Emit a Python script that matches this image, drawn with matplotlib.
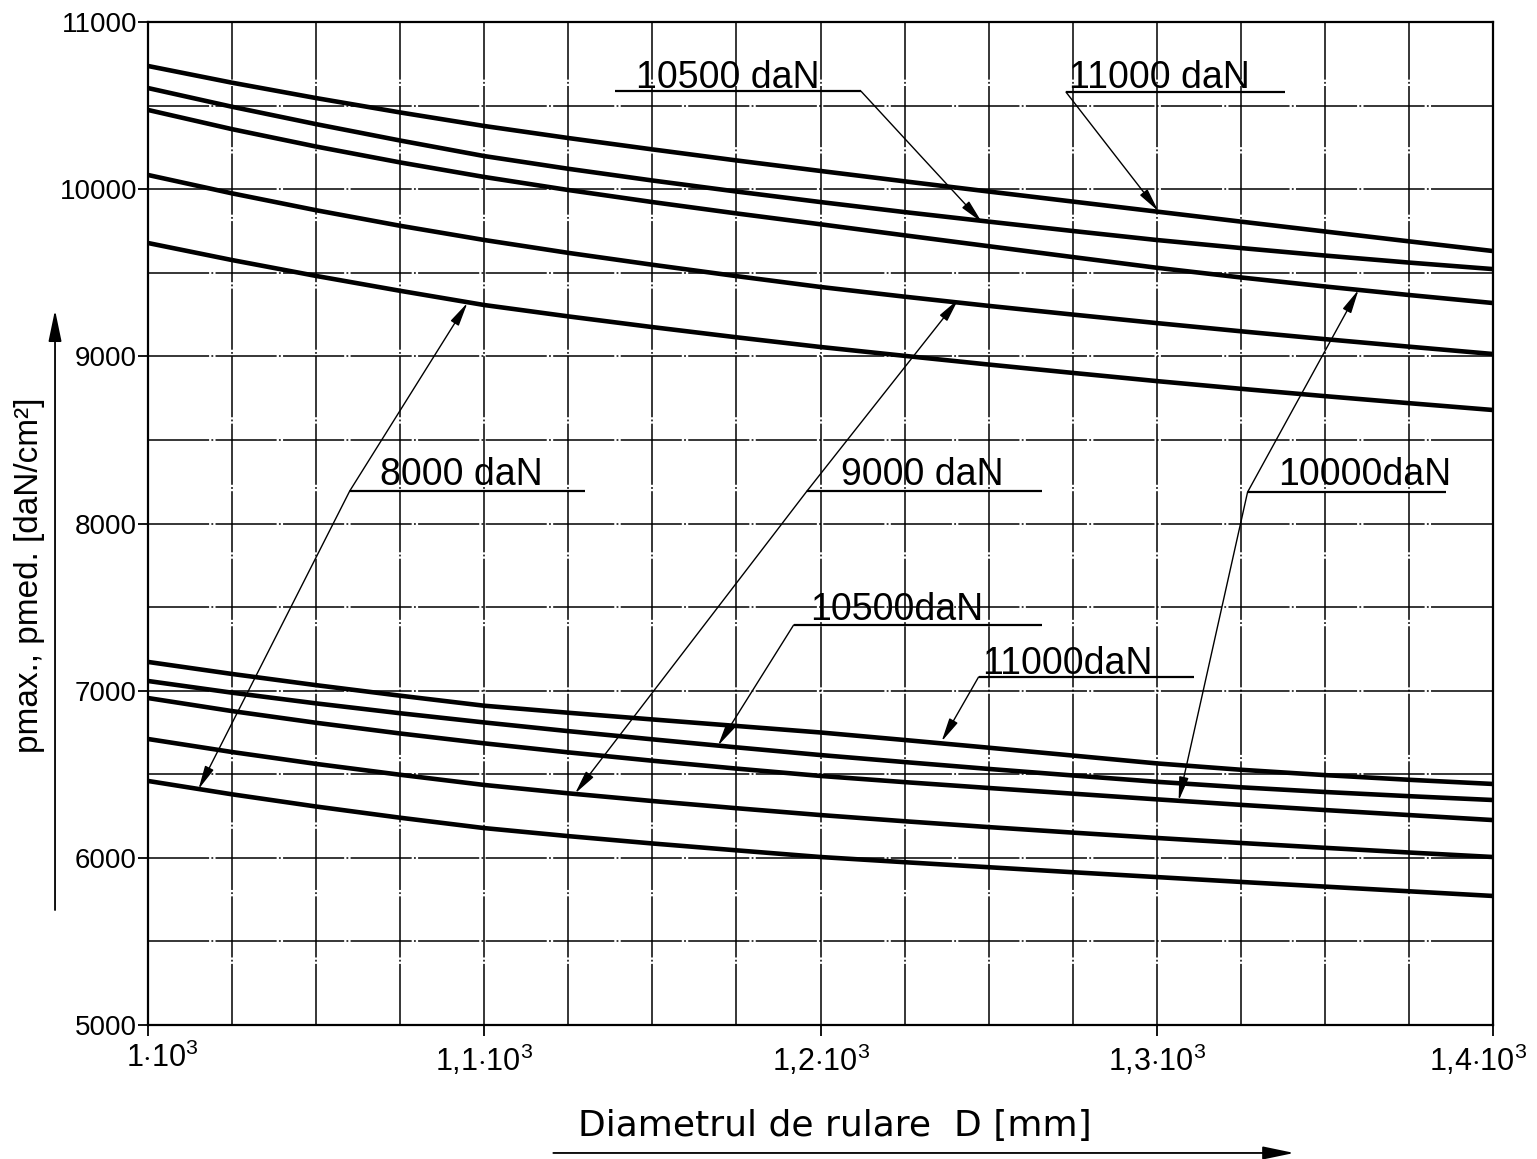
import matplotlib
matplotlib.use('Agg')
import matplotlib.pyplot as plt
import matplotlib.transforms as mtransforms
from matplotlib.ticker import MultipleLocator

plt.rcParams['mathtext.fontset'] = 'custom'
plt.rcParams['mathtext.rm'] = 'Liberation Sans'
plt.rcParams['mathtext.it'] = 'Liberation Sans:italic'

# diametrul de rulare D [mm]
D = [1000, 1025, 1050, 1075, 1100, 1125, 1150, 1175, 1200,
     1225, 1250, 1275, 1300, 1325, 1350, 1375, 1400]

# p max. [daN/cm2] (grupul de sus)
pmax_8000 = [9678, 9576, 9481, 9392, 9307, 9239, 9175, 9114, 9056,
             9003, 8951, 8901, 8852, 8806, 8762, 8720, 8679]
pmax_9000 = [10085, 9975, 9874, 9781, 9696, 9619, 9548, 9480, 9415,
             9357, 9302, 9250, 9199, 9150, 9103, 9058, 9014]
pmax_10000 = [10474, 10359, 10255, 10160, 10073, 9995, 9923, 9855, 9790,
              9724, 9659, 9594, 9530, 9472, 9418, 9367, 9319]
pmax_10500 = [10605, 10493, 10389, 10291, 10198, 10122, 10052, 9986, 9923,
              9863, 9806, 9750, 9696, 9648, 9603, 9561, 9522]
pmax_11000 = [10737, 10637, 10545, 10459, 10378, 10306, 10238, 10172, 10109,
              10047, 9986, 9926, 9866, 9806, 9747, 9688, 9630]

# p med. [daN/cm2] (grupul de jos)
pmed_8000 = [6460, 6380, 6307, 6240, 6178, 6130, 6086, 6045, 6005,
             5974, 5944, 5914, 5885, 5856, 5828, 5800, 5772]
pmed_9000 = [6711, 6633, 6562, 6497, 6436, 6386, 6340, 6297, 6256,
             6219, 6184, 6151, 6119, 6089, 6060, 6032, 6005]
pmed_10000 = [6956, 6878, 6808, 6744, 6685, 6631, 6581, 6534, 6490,
              6453, 6418, 6384, 6350, 6317, 6286, 6256, 6226]
pmed_10500 = [7058, 6988, 6924, 6865, 6810, 6758, 6709, 6661, 6615,
              6573, 6532, 6493, 6455, 6422, 6394, 6369, 6346]
pmed_11000 = [7172, 7100, 7033, 6970, 6910, 6868, 6828, 6789, 6750,
              6705, 6659, 6612, 6565, 6527, 6495, 6467, 6442]

x_ticks = [1000, 1100, 1200, 1300, 1400]
x_tick_labels = [r'1$\cdot$10$^3$', r'1,1$\cdot$10$^3$', r'1,2$\cdot$10$^3$',
                 r'1,3$\cdot$10$^3$', r'1,4$\cdot$10$^3$']
y_ticks = [5000, 6000, 7000, 8000, 9000, 10000, 11000]

FONT = ['Liberation Sans', 'DejaVu Sans']


def label(ax, text, x_text, y_text, x0, x1, y_line, elbow, tips):
    ax.text(x_text, y_text, text, fontsize=27, family=FONT,
            ha='left', va='baseline')
    ax.plot([x0, x1], [y_line, y_line], color='k', lw=1.6,
            solid_capstyle='butt')
    for tip in tips:
        ax.annotate('', xy=tip, xytext=elbow,
                    arrowprops=dict(arrowstyle='-|>,head_length=0.9,head_width=0.18',
                                    color='k', lw=1.0, shrinkA=0, shrinkB=0,
                                    mutation_scale=16))


def main():
    fig = plt.figure(figsize=(15.37, 11.59), dpi=100)
    ax = fig.add_axes([0.0963, 0.1156, 0.8751, 0.8654])

    for p in [pmax_8000, pmax_9000, pmax_10000, pmax_10500, pmax_11000,
              pmed_8000, pmed_9000, pmed_10000, pmed_10500, pmed_11000]:
        ax.plot(D, p, color='k', lw=3.3, solid_joinstyle='round', zorder=3)

    ax.set_xlim(1000, 1400)
    ax.set_ylim(5000, 11000)
    ax.set_xticks(x_ticks, x_tick_labels)
    ax.set_yticks(y_ticks, [str(v) for v in y_ticks])
    ax.xaxis.set_minor_locator(MultipleLocator(25))
    ax.yaxis.set_minor_locator(MultipleLocator(500))
    ax.grid(which='both', color='k', lw=1.1, ls=(0, (40, 1.5, 1.2, 1.5)))
    ax.tick_params(which='minor', length=0)
    ax.tick_params(axis='x', which='major', length=8, width=1.3, pad=5,
                   labelsize=22)
    ax.tick_params(axis='y', which='major', length=7, width=1.3, pad=1,
                   labelsize=20)
    for t in ax.get_xticklabels() + ax.get_yticklabels():
        t.set_family(FONT)
    # etichetele de la capete sunt deplasate ca in original
    xlabels = ax.get_xticklabels()
    for t, dx in [(xlabels[0], 14), (xlabels[-1], -15)]:
        off = mtransforms.ScaledTranslation(dx / 100, 0, fig.dpi_scale_trans)
        t.set_transform(t.get_transform() + off)
    for s in ax.spines.values():
        s.set_linewidth(1.6)

    # etichete sarcini
    label(ax, '10500 daN', 1145, 10605, 1139, 1212, 10587,
          (1212, 10587), [(1248, 9802)])
    label(ax, '11000 daN', 1274, 10605, 1273, 1338, 10581,
          (1273, 10581), [(1300.5, 9868)])
    label(ax, '8000 daN', 1069, 8230, 1060, 1130, 8195,
          (1060, 8195), [(1095, 9320), (1015, 6410)])
    label(ax, '9000 daN', 1206, 8230, 1196, 1266, 8195,
          (1196, 8195), [(1241, 9342), (1127, 6385)])
    label(ax, '10000daN', 1336, 8230, 1327, 1386, 8188,
          (1327, 8188), [(1360, 9398), (1306.5, 6342)])
    label(ax, '10500daN', 1197, 7420, 1192, 1266, 7393,
          (1192, 7393), [(1169.5, 6671)])
    label(ax, '11000daN', 1248, 7100, 1247, 1311, 7082,
          (1247, 7082), [(1236, 6696)])

    # axe cu sageti
    fig.text(0.376, 0.0198, 'Diametrul de rulare  D [mm]', fontsize=26,
             family='DejaVu Sans', ha='left', va='baseline')
    ax.annotate('', xy=(0.842, 0.0052), xytext=(0.360, 0.0052),
                xycoords='figure fraction', textcoords='figure fraction',
                arrowprops=dict(arrowstyle='-|>,head_length=1.2,head_width=0.25',
                                color='k', lw=1.3, shrinkA=0, shrinkB=0,
                                mutation_scale=16))
    fig.text(0.019, 0.504, 'pmax., pmed. [daN/cm²]', fontsize=24,
             family=FONT, rotation=90, ha='center', va='center')
    ax.annotate('', xy=(0.0358, 0.7325), xytext=(0.0358, 0.2148),
                xycoords='figure fraction', textcoords='figure fraction',
                arrowprops=dict(arrowstyle='-|>,head_length=1.2,head_width=0.25',
                                color='k', lw=1.3, shrinkA=0, shrinkB=0,
                                mutation_scale=16))

    plt.savefig('out.png', dpi=100)
    plt.clf()


if __name__ == '__main__':
    main()
